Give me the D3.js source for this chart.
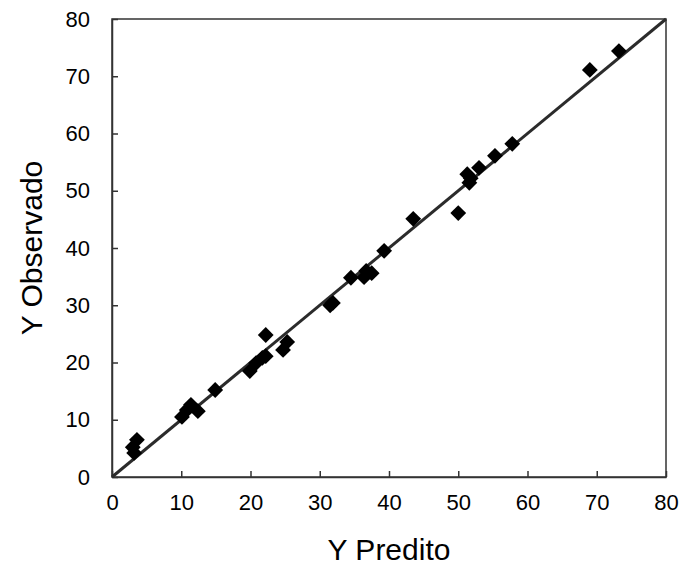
<!DOCTYPE html>
<html><head><meta charset="utf-8">
<script src="https://cdn.jsdelivr.net/npm/d3@7"></script>
<style>body{margin:0;background:#fff;}svg{display:block;font-family:"Liberation Sans",Arial,sans-serif;}</style>
</head><body><svg id="c" width="682" height="570"></svg>
<script>
const predicted = [3.0,3.6,3.2,10.1,10.8,11.4,12.4,14.9,19.9,20.8,21.7,22.2,22.2,24.7,25.3,31.5,31.9,34.5,36.4,36.7,37.5,39.3,43.5,50.0,51.3,51.6,51.8,53.0,55.3,57.8,69.0,73.2];
const observed  = [5.2,6.5,4.2,10.5,11.7,12.6,11.5,15.2,18.5,19.9,20.8,21.1,24.8,22.2,23.6,30.0,30.4,34.8,34.9,36.0,35.6,39.5,45.1,46.1,52.9,51.4,52.2,54.0,56.1,58.2,71.1,74.4];
const xTicks = [0,10,20,30,40,50,60,70,80];
const yTicks = [0,10,20,30,40,50,60,70,80];
const lineX = [0,80];

const svg = d3.select("#c");
const L=112,R=666,T=19,B=477;
const x = d3.scaleLinear().domain([0,80]).range([L,R]);
const y = d3.scaleLinear().domain([0,80]).range([B,T]);

svg.append("rect").attr("x",L).attr("y",T).attr("width",R-L).attr("height",B-T)
  .attr("fill","none").attr("stroke","#333").attr("stroke-width",1.5);

const xa = svg.append("g").attr("transform",`translate(0,${B})`)
  .call(d3.axisBottom(x).tickValues(xTicks).tickSizeInner(-6).tickSizeOuter(0).tickPadding(17));
const ya = svg.append("g").attr("transform",`translate(${L},0)`)
  .call(d3.axisLeft(y).tickValues(yTicks).tickSizeInner(-6).tickSizeOuter(0).tickPadding(22));
[xa,ya].forEach(a=>{
  a.select(".domain").attr("stroke","#333").attr("stroke-width",1.5);
  a.selectAll(".tick line").attr("stroke","#333").attr("stroke-width",1.5);
  a.selectAll("text").attr("font-size",22).attr("fill","#000").attr("font-family","Liberation Sans, Arial, sans-serif");
});
xa.selectAll(".tick text").attr("dy","0.71em");

svg.append("line").attr("x1",x(lineX[0])).attr("y1",y(lineX[0])).attr("x2",x(lineX[1])).attr("y2",y(lineX[1]))
  .attr("stroke","#2b2b2b").attr("stroke-width",3);

const sym = d3.symbol().type(d3.symbolSquare).size(125);
svg.append("g").selectAll("path").data(predicted.map((p,i)=>[p,observed[i]])).join("path")
  .attr("d",sym).attr("transform",d=>`translate(${x(d[0])},${y(d[1])}) rotate(45)`).attr("fill","#000");

svg.append("text").attr("x",(L+R)/2).attr("y",560).attr("text-anchor","middle")
  .attr("font-size",30).text("Y Predito");
svg.append("text").attr("transform",`translate(42,${(T+B)/2}) rotate(-90)`).attr("text-anchor","middle")
  .attr("font-size",30).text("Y Observado");
</script></body></html>
